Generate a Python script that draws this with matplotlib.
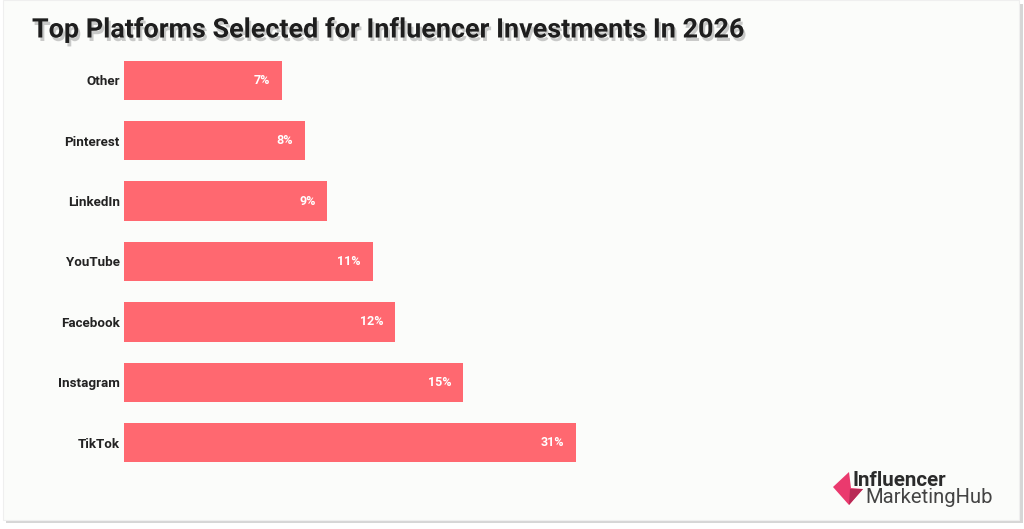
import matplotlib
matplotlib.use("Agg")
import matplotlib.pyplot as plt
import matplotlib.patheffects as pe
from matplotlib.patches import Rectangle, Polygon
import numpy as np

categories = ["Other", "Pinterest", "LinkedIn", "YouTube", "Facebook", "Instagram", "TikTok"]
values = [7, 8, 9, 11, 12, 15, 31]
labels = ["7%", "8%", "9%", "11%", "12%", "15%", "31%"]

W, H = 1024, 529
fig = plt.figure(figsize=(W / 100, H / 100), dpi=100)
fig.patch.set_facecolor("white")

def fx(px):
    return px / W

def fy(py):
    return 1 - py / H

# card with shadow
fig.add_artist(Rectangle((fx(6), fy(523)), fx(1017), (519) / H, transform=fig.transFigure,
                         facecolor="#d6d6d6", edgecolor="none", zorder=-2))
fig.add_artist(Rectangle((fx(3), fy(520)), fx(1016), 520 / H, transform=fig.transFigure,
                         facecolor="#fbfcfa", edgecolor="#efefef", linewidth=0.8, zorder=-1))

# axes: x from 124px to 576px, y covering bars
top_px, bot_px = 50, 473
ax = fig.add_axes([fx(124), fy(bot_px), fx(576 - 124), (bot_px - top_px) / H])
ax.set_facecolor("none")
ax.set_zorder(1)

K = 5 / 16.0
def fwd(x):
    x = np.asarray(x, dtype=float)
    return np.where(x <= 15, x, 15 + (x - 15) * K)

def inv(y):
    y = np.asarray(y, dtype=float)
    return np.where(y <= 15, y, 15 + (y - 15) / K)

ax.set_xscale("function", functions=(fwd, inv))
ypos = np.arange(len(categories))
ax.barh(ypos, values, height=0.65, color="#ff6870", edgecolor="none")
ax.set_xlim(0, 31)
ax.set_ylim(6.5, -0.5)

for y, v, lab in zip(ypos, values, labels):
    ax.annotate(lab, xy=(v, y), xytext=(-8.5, 0), textcoords="offset points",
                ha="right", va="center", color="white", fontsize=9,
                fontweight="bold", family="Roboto")

ax.set_yticks(ypos)
ax.set_yticklabels(categories, fontsize=9.6, fontweight="bold", family="Roboto", color="#222222")
ax.tick_params(axis="y", length=0, pad=3)
ax.set_xticks([])
ax.xaxis.set_minor_locator(matplotlib.ticker.NullLocator())
for s in ax.spines.values():
    s.set_visible(False)

# title
fig.text(fx(32), fy(30), "Top Platforms Selected for Influencer Investments In 2026",
         ha="left", va="center", fontsize=19.4, fontweight="bold", family="Roboto",
         color="#1e1e1e",
         path_effects=[pe.withSimplePatchShadow(offset=(1.5, -2.5), shadow_rgbFace="#555555", alpha=0.3)])

# logo
def P(pts):
    return [(fx(x), fy(y)) for x, y in pts]

fig.add_artist(Polygon(P([(833, 487), (849, 472), (851, 488), (863, 489), (849, 505)]),
                       closed=True, transform=fig.transFigure, facecolor="#ea3a6e", edgecolor="none"))
fig.add_artist(Polygon(P([(850, 489), (863, 489), (849, 505)]),
                       closed=True, transform=fig.transFigure, facecolor="#b82a55", edgecolor="none"))
fig.text(fx(853), fy(486), "Influencer", ha="left", va="baseline", fontsize=14.8,
         fontweight="bold", family="Roboto", color="#2b2b2b")
fig.text(fx(865), fy(503), "MarketingHub", ha="left", va="baseline", fontsize=14.6,
         family="Roboto", color="#444444")

fig.savefig("out.png", dpi=100, facecolor=fig.get_facecolor())
